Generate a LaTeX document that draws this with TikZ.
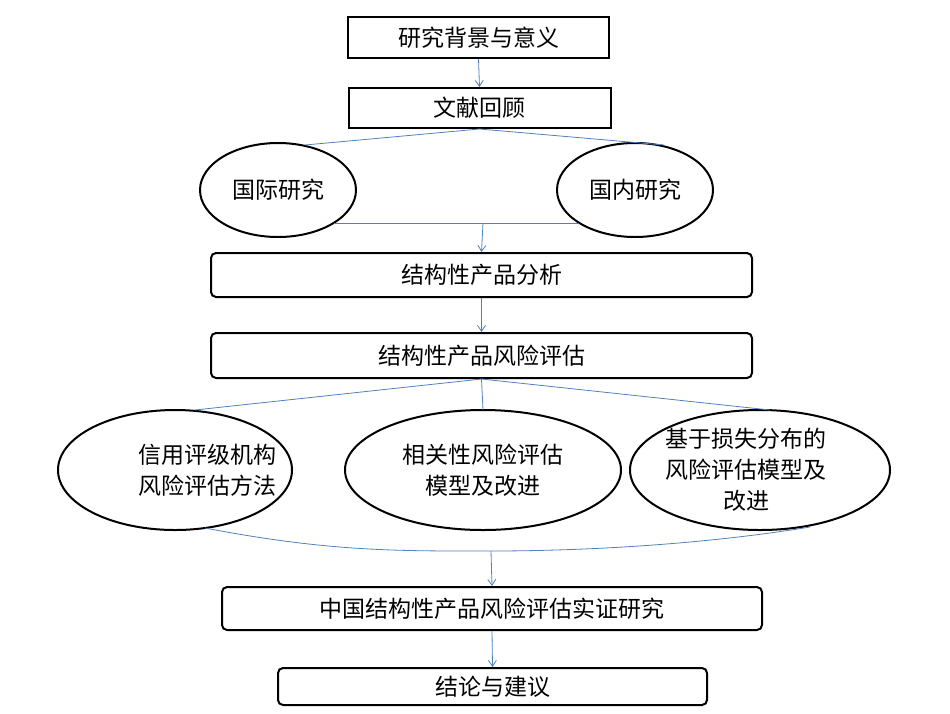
\documentclass[tikz,border=0pt]{standalone}
\usepackage{fontspec}
\setmainfont{Noto Sans CJK SC}
\usetikzlibrary{arrows.meta}
\definecolor{ln}{RGB}{79,129,189}
\begin{document}
\begin{tikzpicture}[x=1pt,y=-1pt,
  box/.style={draw=black,line width=2pt,minimum height=#1,inner sep=0pt,font=\fontsize{23}{27}\selectfont},
  ell/.style={draw=black,line width=2pt},
  etext/.style={align=center,font=\fontsize{23}{31}\selectfont},
  conn/.style={draw=ln,line width=0.8pt},
  arr/.style={conn,-{Straight Barb[length=6pt,width=8pt]}}]
\useasboundingbox (0,0) rectangle (950,713);
\node[box=41pt,minimum width=261pt] (b1) at (478.5,37.5) {研究背景与意义};
\node[box=40pt,minimum width=262pt] (b2) at (479.5,108) {文献回顾};
\draw[ell] (278,190) ellipse (78 and 47);
\node[etext] (e1) at (278,190) {国际研究};
\draw[ell] (635,190) ellipse (78 and 47);
\node[etext] (e2) at (635,190) {国内研究};
\node[box=44pt,minimum width=541pt,rounded corners=5pt] (b3) at (481.5,275) {结构性产品分析};
\node[box=45pt,minimum width=541pt,rounded corners=5pt] (b4) at (481.5,355.5) {结构性产品风险评估};
\draw[ell] (175,470) ellipse (117 and 60);
\node[etext] (e3) at (207,470) {信用评级机构\\风险评估方法};
\draw[ell] (483,470) ellipse (138 and 60);
\node[etext] (e4) at (483,470) {相关性风险评估\\模型及改进};
\draw[ell] (760,470) ellipse (130 and 60);
\node[etext] (e5) at (746,470) {基于损失分布的\\风险评估模型及\\改进};
\node[box=43pt,minimum width=540pt,rounded corners=5pt] (b5) at (492,608.5) {中国结构性产品风险评估实证研究};
\node[box=37pt,minimum width=429pt,rounded corners=5pt] (b6) at (492.5,686.5) {结论与建议};
\coordinate (c1) at (b2.south);
\coordinate (t1) at (305,145);
\coordinate (t2) at (664,145);
\coordinate (j1) at (334,223);
\coordinate (j2) at (579,223);
\coordinate (j3) at (483,223);
\coordinate (t3) at (195,410);
\coordinate (t4) at (770,410);
\coordinate (t5) at (483,410);
\coordinate (d1) at (205,528);
\coordinate (d2) at (810,527);
\coordinate (d3) at (491,551);
\draw[arr] (b1.south) -- (b2.north);
\draw[conn] (t1) -- (c1) -- (t2);
\draw[conn] (j1) -- (j2);
\draw[arr] (j3) -- (b3.north);
\draw[arr] (b3.south) -- (b4.north);
\draw[conn] (t3) -- (b4.south) -- (t4);
\draw[conn] (b4.south) -- (t5);
\draw[conn] (d1) .. controls (330,552) and (400,551) .. (d3) .. controls (580,551) and (700,545) .. (d2);
\draw[arr] (d3) -- (b5.north);
\draw[arr] (b5.south) -- (b6.north);
\end{tikzpicture}
\end{document}
